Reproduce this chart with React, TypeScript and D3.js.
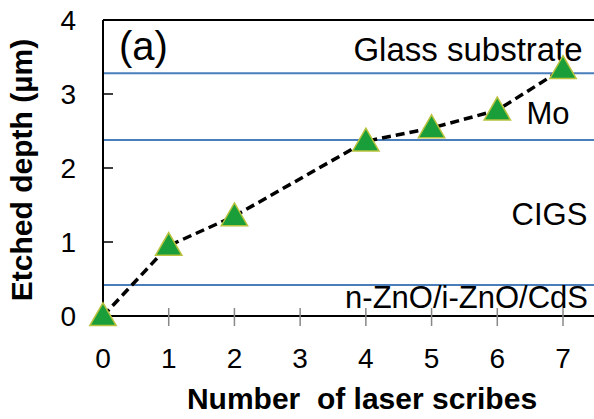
import React from "react";
import * as d3 from "d3";

const scribes = [0, 1, 2, 4, 5, 6, 7];
const depths = [0, 0.95, 1.35, 2.36, 2.54, 2.78, 3.34];
const xTicks = [0, 1, 2, 3, 4, 5, 6, 7];
const yTicks = [0, 1, 2, 3, 4];
const layerBoundaries = [3.28, 2.38, 0.42];
const layerLabels = [
  { text: "Glass substrate", x: 7.3, y: 3.45, size: 33 },
  { text: "Mo", x: 7.1, y: 2.59, size: 31 },
  { text: "CIGS", x: 7.37, y: 1.23, size: 31 },
  { text: "n-ZnO/i-ZnO/CdS", x: 7.38, y: 0.11, size: 31 },
];

const W = 594;
const H = 419;
const left = 103;
const top = 20;
const bottom = 316;

export default function App() {
  const x = d3.scaleLinear().domain([0, 7]).range([left, 563]);
  const y = d3.scaleLinear().domain([0, 4]).range([bottom, top]);
  const pts = scribes.map((s, i) => [s, depths[i]] as [number, number]);
  const line = d3
    .line<[number, number]>()
    .x((d) => x(d[0]))
    .y((d) => y(d[1]));
  const tri = d3.symbol().type(d3.symbolTriangle).size(300)();
  const font = "'Liberation Sans', Arial, sans-serif";

  return (
    <svg
      width={W}
      height={H}
      style={{ position: "absolute", left: 0, top: 0, background: "#fff" }}
      fontFamily={font}
    >
      {/* layer boundaries */}
      {layerBoundaries.map((v, i) => (
        <line key={i} x1={left} x2={W} y1={y(v)} y2={y(v)} stroke="#4a7ebb" strokeWidth={2} />
      ))}
      {/* frame */}
      <line x1={left} x2={W} y1={top} y2={top} stroke="#000" strokeWidth={2} />
      <line x1={left} x2={left} y1={top} y2={bottom} stroke="#000" strokeWidth={2} />
      <line x1={left} x2={W} y1={bottom} y2={bottom} stroke="#000" strokeWidth={2} />
      {/* x ticks */}
      {xTicks.filter((t) => t > 0).map((t) => (
        <line key={t} x1={x(t)} x2={x(t)} y1={bottom - 8} y2={bottom + 10} stroke="#888" strokeWidth={1.5} />
      ))}
      {xTicks.map((t) => (
        <text key={t} x={x(t)} y={368} fontSize={28} textAnchor="middle" fill="#000">
          {t}
        </text>
      ))}
      {/* y ticks */}
      {yTicks.filter((t) => t > 0 && t < 4).map((t) => (
        <line key={t} x1={left} x2={left + 10} y1={y(t)} y2={y(t)} stroke="#000" strokeWidth={1.5} />
      ))}
      {yTicks.map((t) => (
        <text key={t} x={76} y={y(t) + 10} fontSize={28} textAnchor="end" fill="#000">
          {t}
        </text>
      ))}
      {/* titles */}
      <text x={362} y={409} fontSize={30} fontWeight="bold" textAnchor="middle">
        Number&#160; of laser scribes
      </text>
      <text
        transform={`translate(32,170) rotate(-90)`}
        fontSize={30}
        fontWeight="bold"
        textAnchor="middle"
      >
        Etched depth (µm)
      </text>
      <text x={119} y={60} fontSize={40}>(a)</text>
      {layerLabels.map((l, i) => (
        <text key={i} x={x(l.x)} y={y(l.y)} fontSize={l.size} textAnchor="end">
          {l.text}
        </text>
      ))}
      {/* data */}
      <path d={line(pts) || ""} fill="none" stroke="#000" strokeWidth={3.5} strokeDasharray="9,5" />
      {pts.map((p, i) => (
        <path
          key={i}
          d={tri || ""}
          transform={`translate(${x(p[0])},${y(p[1]) + 2})`}
          fill="#1a9e3a"
          stroke="#b8c23c"
          strokeWidth={1.5}
        />
      ))}
    </svg>
  );
}
